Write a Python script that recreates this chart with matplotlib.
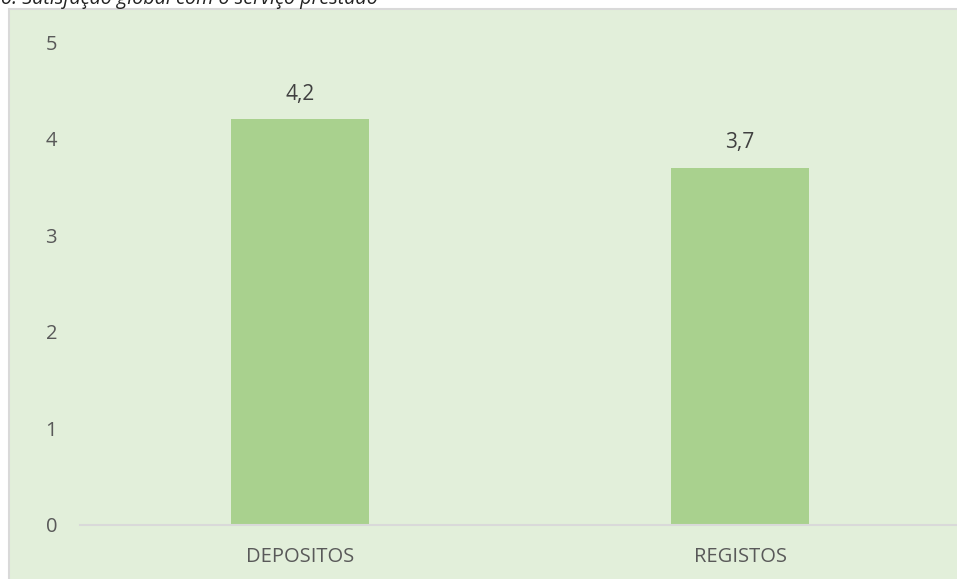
import matplotlib.pyplot as plt
from matplotlib.patches import Rectangle

# dados
categorias = ['DEPOSITOS', 'REGISTOS']
valores = [4.2, 3.7]
rotulos = ['4,2', '3,7']
yticks = [0, 1, 2, 3, 4, 5]

plt.rcParams['font.family'] = ['Open Sans', 'DejaVu Sans']

W, H = 957, 579
fig = plt.figure(figsize=(W / 100, H / 100), dpi=100)
fig.patch.set_facecolor('white')

# fundo da área do gráfico
fig.patches.append(Rectangle((9 / W, -0.01), 1.02, 1 - 9 / H + 0.01,
                             transform=fig.transFigure, facecolor='#E2EFDA',
                             edgecolor='#D9D9D9', linewidth=1.5, zorder=-5))

# título (cortado no topo)
fig.text(1 / W, 1 - 4 / H, 'o. Satisfação global com o serviço prestado',
         fontsize=14.2, style='italic', color='#222222', va='baseline', ha='left')

ax = fig.add_axes([80 / W, 1 - 525 / H, 880 / W, (525 - 42) / H])
ax.set_facecolor('none')

x = range(len(categorias))
barras = ax.bar(x, valores, width=0.314, color='#A9D18E', zorder=2)
for b, r in zip(barras, rotulos):
    ax.text(b.get_x() + b.get_width() / 2, b.get_height() + 0.2, r,
            ha='center', va='baseline', fontsize=15, color='#404040')

ax.set_xlim(-0.5, 1.5)
ax.set_ylim(0, 5)
ax.set_yticks(yticks)
ax.set_xticks(list(x))
ax.set_xticklabels(categorias)
for s in ['top', 'right', 'left']:
    ax.spines[s].set_visible(False)
ax.spines['bottom'].set_color('#D9D9D9')
ax.spines['bottom'].set_linewidth(1.5)
ax.tick_params(axis='both', length=0, labelsize=14.5, labelcolor='#595959')
ax.tick_params(axis='y', pad=16.5)
ax.tick_params(axis='x', pad=16)

plt.savefig('out.png', dpi=100, facecolor='white')
